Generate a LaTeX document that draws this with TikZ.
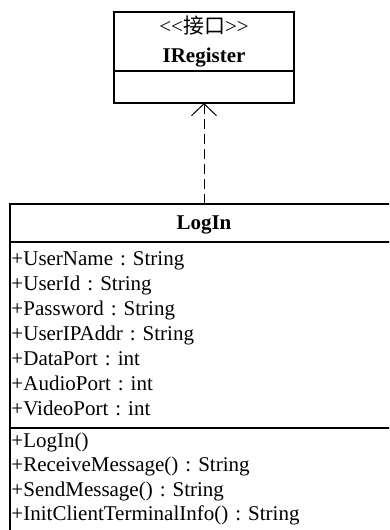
\documentclass[tikz,border=0pt]{standalone}
\usepackage{fontspec}
\setmainfont{Liberation Serif}
\newfontfamily\cjk{Noto Sans CJK SC}
\usepackage{tikz}
\usetikzlibrary{arrows.meta,positioning}
\frenchspacing

\begin{document}
\begin{tikzpicture}[x=1pt,y=1pt,font=\fontsize{21}{25}\selectfont,node distance=0pt,
    umlbox/.style={draw,line width=1.4pt,inner ysep=0pt,inner xsep=0pt,outer sep=0pt,fill=white},
    realize/.style={line width=0.9pt,dash pattern=on 10pt off 5pt,-{Straight Barb[length=12pt,width=25pt,line width=1pt]}}]
  \useasboundingbox (0,0) rectangle (389,-530);
  \clip (0,0) rectangle (389,-530);
  % interface
  \node[umlbox,text width=180pt,align=center,text height=21pt,text depth=38pt,
        font=\fontsize{21}{29}\selectfont,anchor=north] (ihead) at (204,-12)
    {<\kern0pt<{\cjk 接口}>\kern0pt>\\\textbf{IRegister}};
  \node[umlbox,text width=180pt,minimum height=32pt,below=of ihead] (ibody) {};
  % class
  \node[umlbox,text width=388pt,align=center,text height=25pt,text depth=13pt,below=101pt of ibody] (lhead)
    {\textbf{LogIn}};
  \node[umlbox,text width=385pt,inner xsep=1.5pt,align=left,text height=23pt,text depth=163pt,below=of lhead] (attrs)
    {+UserName : String\\+UserId : String\\+Password : String\\+UserIPAddr : String\\
     +DataPort : int\\+AudioPort : int\\+VideoPort : int};
  \node[umlbox,text width=385pt,inner xsep=1.5pt,align=left,text height=19.5pt,text depth=97pt,
        font=\fontsize{21}{24.3}\selectfont,below=of attrs] (meths)
    {+LogIn()\\+ReceiveMessage() : String\\+SendMessage() : String\\+InitClientTerminalInfo() : String};
  \draw[realize] (lhead) -- (ibody);
\end{tikzpicture}
\end{document}
